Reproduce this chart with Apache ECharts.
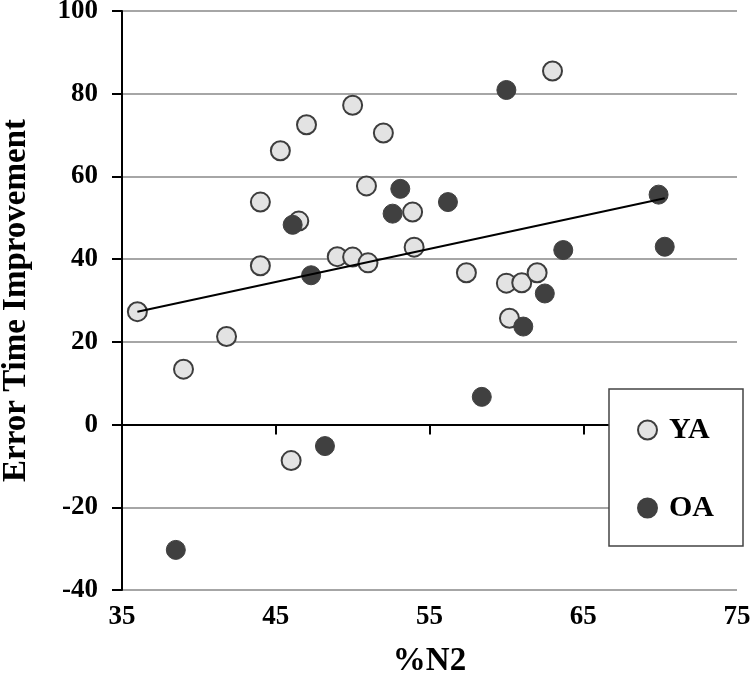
<!DOCTYPE html>
<html>
<head>
<meta charset="utf-8">
<script src="https://cdn.jsdelivr.net/npm/echarts@6/dist/echarts.min.js"></script>
<style>html,body{margin:0;padding:0;background:#fff;}#c{width:750px;height:673px;}</style>
</head>
<body>
<div id="c"></div>
<script>
// Data
const yaX = [50.0, 47.0, 45.3, 52.0, 50.9, 53.9, 44.0, 46.5, 49.0, 50.0, 51.0, 54.0, 44.0, 63.0, 57.4, 60.0, 61.0, 62.0, 60.2, 36.0, 41.8, 39.0, 46.0];
const yaY = [77.2, 72.5, 66.2, 70.5, 57.7, 51.4, 53.8, 49.2, 40.6, 40.5, 39.1, 42.9, 38.4, 85.5, 36.7, 34.2, 34.3, 36.7, 25.7, 27.3, 21.3, 13.4, -8.7];
const oaX = [53.1, 52.6, 46.1, 47.3, 60.0, 56.2, 69.9, 70.3, 63.7, 62.5, 61.1, 58.4, 48.2, 38.5];
const oaY = [57.0, 51.0, 48.3, 36.1, 80.9, 53.8, 55.6, 43.0, 42.2, 31.7, 23.7, 6.7, -5.2, -30.3];
const trendX = [36.0, 70.3];
const trendY = [27.3, 54.7];
const xTicks = [35, 45, 55, 65, 75];
const yTicks = [-40, -20, 0, 20, 40, 60, 80, 100];
const seriesNames = ['YA', 'OA'];

const pairs = (xs, ys) => xs.map((x, i) => [x, ys[i]]);
const FONT = '"Liberation Serif", "Times New Roman", serif';

const chart = echarts.init(document.getElementById('c'), null, {renderer: 'canvas'});
chart.setOption({
  animation: false,
  backgroundColor: '#ffffff',
  grid: {left: 122, right: 13, top: 11, bottom: 83, containLabel: false, outerBoundsMode: 'none'},
  xAxis: [
    {
      type: 'value', position: 'bottom',
      min: xTicks[0], max: xTicks[xTicks.length - 1], interval: 10,
      axisLine: {show: true, onZero: true, lineStyle: {color: '#000', width: 2}},
      axisTick: {show: true, length: 10, lineStyle: {color: '#000', width: 2}},
      axisLabel: {show: false},
      splitLine: {show: false}
    },
    {
      type: 'value', position: 'bottom',
      min: xTicks[0], max: xTicks[xTicks.length - 1], interval: 10,
      axisLine: {show: false, onZero: false},
      axisTick: {show: false},
      axisLabel: {show: true, margin: 14, color: '#000', fontSize: 27, fontWeight: 'bold', fontFamily: FONT},
      splitLine: {show: false},
      name: '%N2', nameLocation: 'middle', nameGap: 55,
      nameTextStyle: {color: '#000', fontSize: 33, fontWeight: 'bold', fontFamily: FONT}
    }
  ],
  yAxis: {
    type: 'value',
    min: yTicks[0], max: yTicks[yTicks.length - 1], interval: 20,
    axisLine: {show: true, onZero: false, lineStyle: {color: '#000', width: 2}},
    axisTick: {show: true, length: 10, lineStyle: {color: '#000', width: 2}},
    axisLabel: {show: true, margin: 24, color: '#000', fontSize: 27, fontWeight: 'bold', fontFamily: FONT},
    splitLine: {show: true, lineStyle: {color: '#a6a6a6', width: 2}},
    name: 'Error Time Improvement', nameLocation: 'middle', nameGap: 89, nameRotate: 90,
    nameTextStyle: {color: '#000', fontSize: 33, fontWeight: 'bold', fontFamily: FONT}
  },
  legend: {
    data: seriesNames,
    orient: 'vertical',
    left: 609, top: 389,
    backgroundColor: '#ffffff',
    borderColor: '#444444', borderWidth: 1.5, borderRadius: 0,
    padding: [26, 29, 23, 28],
    itemWidth: 19, itemHeight: 19, itemGap: 48,
    icon: 'circle',
    textStyle: {color: '#000', fontSize: 30, fontWeight: 'bold', fontFamily: FONT, lineHeight: 30, padding: [0, 0, 0, 7]},
    z: 10
  },
  series: [
    {
      name: seriesNames[0], type: 'scatter', xAxisIndex: 0,
      data: pairs(yaX, yaY), symbol: 'circle', symbolSize: 19,
      itemStyle: {color: '#e3e3e3', borderColor: '#3d3d3d', borderWidth: 2, opacity: 1},
      z: 3
    },
    {
      name: seriesNames[1], type: 'scatter', xAxisIndex: 0,
      data: pairs(oaX, oaY), symbol: 'circle', symbolSize: 19,
      itemStyle: {color: '#404040', borderColor: '#404040', borderWidth: 1, opacity: 1},
      z: 4
    },
    {
      name: 'Trend', type: 'line', xAxisIndex: 0,
      data: pairs(trendX, trendY), symbol: 'none', silent: true,
      lineStyle: {color: '#000', width: 2},
      z: 5
    }
  ]
});
</script>
</body>
</html>
